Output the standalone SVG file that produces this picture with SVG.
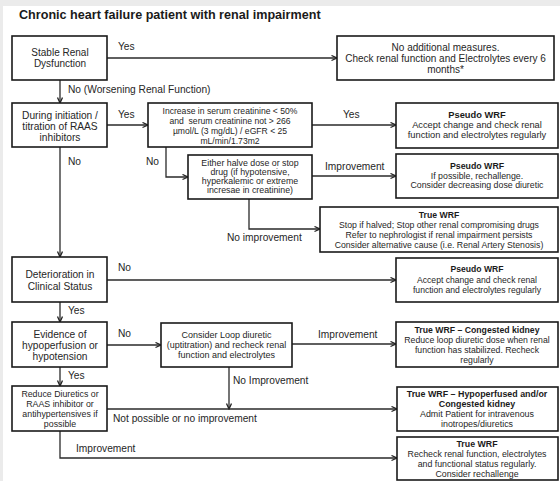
<svg xmlns="http://www.w3.org/2000/svg" width="560" height="481" viewBox="0 0 560 481">
<defs>
<marker id="ah" markerWidth="7" markerHeight="7" refX="6" refY="3" orient="auto" markerUnits="userSpaceOnUse">
<path d="M0.5,0.5 L6,3 L0.5,5.5" fill="none" stroke="#222" stroke-width="1.3"/>
</marker>
</defs>
<style>
.bx{fill:#fff;stroke:#1a1a1a;stroke-width:1.6}
.ln{fill:none;stroke:#2a2a2a;stroke-width:1.3}
.ar{marker-end:url(#ah)}
text{font-family:"Liberation Sans",Arial,sans-serif;fill:#262626}
.c{text-anchor:middle}
.lb{font-size:10.2px}
.b{font-weight:bold;fill:#1a1a1a}
.t{font-size:12.6px;font-weight:bold;fill:#1a1a1a}
</style>
<rect x="0" y="0" width="560" height="481" fill="#fff"/>
<rect x="0" y="0" width="560" height="6" fill="#ebebeb"/>
<rect x="0" y="0" width="3" height="481" fill="#ebebeb"/>
<text class="t" x="19" y="18.5">Chronic heart failure patient with renal impairment</text>

<g id="connectors">
<path class="ln ar" d="M107,58 H337"/>
<path class="ln ar" d="M60,80 V103"/>
<path class="ln ar" d="M107,125 H148"/>
<path class="ln ar" d="M312,125 H396"/>
<path class="ln ar" d="M166,147 V177 H188"/>
<path class="ln ar" d="M312,176 H396"/>
<path class="ln ar" d="M249,199 V229 H320"/>
<path class="ln ar" d="M60,147 V257"/>
<path class="ln ar" d="M107,280 H396"/>
<path class="ln ar" d="M60,302 V322"/>
<path class="ln ar" d="M107,345 H161"/>
<path class="ln ar" d="M292,344 H396"/>
<path class="ln ar" d="M229,367 V409"/>
<path class="ln ar" d="M107,409 H397"/>
<path class="ln ar" d="M60,367 V386"/>
<path class="ln ar" d="M60,431 V458 H397"/>
<text class="lb" x="118" y="49.5">Yes</text>
<text class="lb" x="68" y="92.5">No (Worsening Renal Function)</text>
<text class="lb" x="118" y="117.5">Yes</text>
<text class="lb" x="343" y="117.5">Yes</text>
<text class="lb" x="68" y="164.5">No</text>
<text class="lb" x="146" y="164.5">No</text>
<text class="lb" x="325" y="169.5">Improvement</text>
<text class="lb" x="227" y="240.5">No improvement</text>
<text class="lb" x="118" y="270.5">No</text>
<text class="lb" x="68" y="313.5">Yes</text>
<text class="lb" x="118" y="336.5">No</text>
<text class="lb" x="318" y="337.5">Improvement</text>
<text class="lb" x="233" y="383.5">No Improvement</text>
<text class="lb" x="68" y="378.5">Yes</text>
<text class="lb" x="113" y="421.5">Not possible or no improvement</text>
<text class="lb" x="76" y="451.5">Improvement</text>
</g>

<g id="n1">
<rect class="bx" x="12" y="36" width="95" height="44"/>
<text class="c" font-size="10" x="60" y="55.5">Stable Renal</text>
<text class="c" font-size="10" x="60" y="66.5">Dysfunction</text>
</g>
<g id="n2">
<rect class="bx" x="337" y="36" width="217" height="44"/>
<text class="c" font-size="10" x="445.5" y="50.5">No additional measures.</text>
<text class="c" font-size="10" x="445.5" y="61.5">Check renal function and Electrolytes every 6</text>
<text class="c" font-size="10" x="445.5" y="72.5">months*</text>
</g>
<g id="n3">
<rect class="bx" x="12" y="103" width="95" height="44"/>
<text class="c" font-size="10.2" x="60" y="118.6">During initiation /</text>
<text class="c" font-size="10.2" x="60" y="129.6">titration of RAAS</text>
<text class="c" font-size="10.2" x="60" y="140.6">inhibitors</text>
</g>
<g id="n4">
<rect class="bx" x="148" y="103" width="164" height="44"/>
<text class="c" font-size="8.6" x="230" y="113.5">Increase in serum creatinine &lt; 50%</text>
<text class="c" font-size="8.6" x="230" y="123.5" xml:space="preserve">and  serum creatinine not &gt; 266</text>
<text class="c" font-size="8.6" x="230" y="133.5">µmol/L (3 mg/dL) / eGFR &lt; 25</text>
<text class="c" font-size="8.6" x="230" y="143.5">mL/min/1.73m2</text>
</g>
<g id="n5">
<rect class="bx" x="396" y="103" width="162" height="45"/>
<text class="c b" font-size="9.3" x="477" y="118.3">Pseudo WRF</text>
<text class="c" font-size="9.3" x="477" y="128.3">Accept change and check renal</text>
<text class="c" font-size="9.3" x="477" y="138.3">function and electrolytes regularly</text>
</g>
<g id="n6">
<rect class="bx" x="188" y="155" width="124" height="44"/>
<text class="c" font-size="8.8" x="250" y="166">Either halve dose or stop</text>
<text class="c" font-size="8.8" x="250" y="175">drug (if hypotensive,</text>
<text class="c" font-size="8.8" x="250" y="184">hyperkalemic or extreme</text>
<text class="c" font-size="8.8" x="250" y="193">incresae in creatinine)</text>
</g>
<g id="n7">
<rect class="bx" x="396" y="154" width="162" height="44"/>
<text class="c b" font-size="8.8" x="477" y="169">Pseudo WRF</text>
<text class="c" font-size="8.8" x="477" y="178.5">If possible, rechallenge.</text>
<text class="c" font-size="8.8" x="477" y="188">Consider decreasing dose diuretic</text>
</g>
<g id="n8">
<rect class="bx" x="320" y="207" width="238" height="45"/>
<text class="c b" font-size="8.7" x="439" y="218">True WRF</text>
<text class="c" font-size="8.7" x="439" y="228">Stop if halved; Stop other renal compromising drugs</text>
<text class="c" font-size="8.7" x="439" y="238">Refer to nephrologist if renal impairment persists</text>
<text class="c" font-size="8.7" x="439" y="247.5">Consider alternative cause (i.e. Renal Artery Stenosis)</text>
</g>
<g id="n9">
<rect class="bx" x="12" y="257" width="95" height="45"/>
<text class="c" font-size="10.2" x="60" y="277.6">Deterioration in</text>
<text class="c" font-size="10.2" x="60" y="289.6">Clinical Status</text>
</g>
<g id="n10">
<rect class="bx" x="396" y="258" width="162" height="44"/>
<text class="c b" font-size="8.6" x="477" y="272">Pseudo WRF</text>
<text class="c" font-size="8.6" x="477" y="283">Accept change and check renal</text>
<text class="c" font-size="8.6" x="477" y="293">function and electrolytes regularly</text>
</g>
<g id="n11">
<rect class="bx" x="12" y="322" width="95" height="45"/>
<text class="c" font-size="10.2" x="60" y="337.6">Evidence of</text>
<text class="c" font-size="10.2" x="60" y="348.6">hypoperfusion or</text>
<text class="c" font-size="10.2" x="60" y="359.6">hypotension</text>
</g>
<g id="n12">
<rect class="bx" x="161" y="323" width="131" height="44"/>
<text class="c" font-size="9" x="226.5" y="338">Consider Loop diuretic</text>
<text class="c" font-size="9" x="226.5" y="348">(uptitration) and recheck renal</text>
<text class="c" font-size="9" x="226.5" y="358">function and electrolytes</text>
</g>
<g id="n13">
<rect class="bx" x="396" y="322" width="162" height="45"/>
<text class="c b" font-size="8.7" x="477" y="332.5">True WRF – Congested kidney</text>
<text class="c" font-size="8.7" x="477" y="343">Reduce loop diuretic dose when renal</text>
<text class="c" font-size="8.7" x="477" y="353">function has stabilized. Recheck</text>
<text class="c" font-size="8.7" x="477" y="362.5">regularly</text>
</g>
<g id="n14">
<rect class="bx" x="12" y="386" width="95" height="45"/>
<text class="c" font-size="8.8" x="60" y="397">Reduce Diuretics or</text>
<text class="c" font-size="8.8" x="60" y="407">RAAS inhibitor or</text>
<text class="c" font-size="8.8" x="60" y="417">antihypertensives if</text>
<text class="c" font-size="8.8" x="60" y="426.5">possible</text>
</g>
<g id="n15">
<rect class="bx" x="397" y="387" width="161" height="44"/>
<text class="c b" font-size="8.9" x="477" y="397">True WRF – Hypoperfused and/or</text>
<text class="c b" font-size="8.9" x="477" y="407">Congested kidney</text>
<text class="c" font-size="8.9" x="477" y="416.5">Admit Patient for intravenous</text>
<text class="c" font-size="8.9" x="477" y="426.5">inotropes/diuretics</text>
</g>
<g id="n16">
<rect class="bx" x="397" y="437" width="161" height="43"/>
<text class="c b" font-size="8.8" x="477" y="447">True WRF</text>
<text class="c" font-size="8.8" x="477" y="457">Recheck renal function, electrolytes</text>
<text class="c" font-size="8.8" x="477" y="467">and functional status regularly.</text>
<text class="c" font-size="8.8" x="477" y="477">Consider rechallenge</text>
</g>
</svg>
